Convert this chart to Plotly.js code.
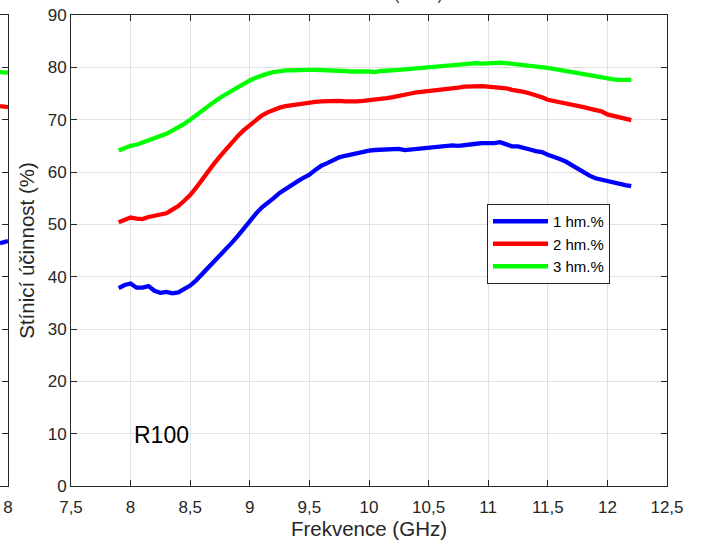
<!DOCTYPE html>
<html>
<head>
<meta charset="utf-8">
<script src="https://cdn.plot.ly/plotly-3.0.1.min.js"></script>
<style>
html, body { margin: 0; padding: 0; background: #ffffff; }
#chart { width: 702px; height: 545px; }
</style>
</head>
<body>
<div id="chart"></div>
<script>
// ---- data ----
const frequency = [
  7.90, 7.95, 8.00, 8.05, 8.10, 8.15, 8.20, 8.25, 8.30, 8.35,
  8.40, 8.45, 8.50, 8.55, 8.60, 8.65, 8.70, 8.75, 8.80, 8.85,
  8.90, 8.95, 9.00, 9.05, 9.10, 9.15, 9.20, 9.25, 9.30, 9.35,
  9.40, 9.45, 9.50, 9.55, 9.60, 9.65, 9.70, 9.75, 9.80, 9.85,
  9.90, 9.95, 10.00, 10.05, 10.10, 10.15, 10.20, 10.25, 10.30, 10.35,
  10.40, 10.45, 10.50, 10.55, 10.60, 10.65, 10.70, 10.75, 10.80, 10.85,
  10.90, 10.95, 11.00, 11.05, 11.10, 11.15, 11.20, 11.25, 11.30, 11.35,
  11.40, 11.45, 11.50, 11.55, 11.60, 11.65, 11.70, 11.75, 11.80, 11.85,
  11.90, 11.95, 12.00, 12.05, 12.10, 12.15, 12.20
];

const series1hm = [
  37.8, 38.4, 38.7, 37.9, 37.9, 38.2, 37.3, 36.9, 37.1, 36.8,
  37.0, 37.7, 38.3, 39.3, 40.5, 41.5, 42.8, 44.0, 45.3, 46.5,
  47.8, 49.3, 50.6, 52.0, 53.2, 54.0, 55.0, 56.0, 56.8, 57.6,
  58.2, 58.9, 59.5, 60.4, 61.2, 61.7, 62.3, 62.8, 63.1, 63.4,
  63.7, 63.9, 64.1, 64.2, 64.3, 64.4, 64.5, 64.4, 64.2, 64.3,
  64.5, 64.6, 64.7, 64.8, 64.9, 65.1, 65.1, 65.0, 65.2, 65.3,
  65.4, 65.5, 65.4, 65.5, 65.7, 65.2, 64.9, 64.9, 64.7, 64.3,
  64.0, 63.8, 63.3, 63.0, 62.5, 62.0, 61.3, 60.6, 59.9, 59.3,
  58.8, 58.5, 58.2, 57.9, 57.8, 57.5, 57.3
];

const series2hm = [
  50.4, 50.9, 51.3, 51.1, 51.0, 51.4, 51.7, 51.9, 52.1, 52.8,
  53.5, 54.5, 55.6, 57.0, 58.6, 60.2, 61.6, 63.0, 64.4, 65.7,
  66.9, 68.0, 69.0, 69.9, 70.8, 71.4, 71.9, 72.3, 72.6, 72.8,
  73.0, 73.1, 73.2, 73.4, 73.5, 73.6, 73.6, 73.6, 73.5, 73.4,
  73.5, 73.6, 73.7, 73.7, 73.9, 74.1, 74.3, 74.6, 74.8, 75.0,
  75.2, 75.3, 75.4, 75.6, 75.8, 75.9, 76.0, 76.1, 76.3, 76.4,
  76.5, 76.4, 76.3, 76.2, 76.3, 76.0, 75.7, 75.6, 75.3, 75.0,
  74.7, 74.3, 73.8, 73.6, 73.3, 73.1, 72.8, 72.6, 72.4, 72.1,
  71.9, 71.6, 71.0, 70.7, 70.3, 70.1, 69.9
];

const series3hm = [
  64.1, 64.6, 65.0, 65.2, 65.6, 66.2, 66.5, 66.9, 67.3, 67.9,
  68.5, 69.2, 70.0, 70.9, 71.7, 72.6, 73.4, 74.2, 74.9, 75.6,
  76.3, 76.9, 77.5, 78.0, 78.5, 78.8, 79.1, 79.3, 79.4, 79.4,
  79.5, 79.5, 79.5, 79.5, 79.5, 79.4, 79.4, 79.3, 79.3, 79.2,
  79.1, 79.2, 79.2, 79.1, 79.3, 79.3, 79.4, 79.5, 79.6, 79.7,
  79.8, 79.8, 79.9, 80.1, 80.3, 80.4, 80.5, 80.6, 80.7, 80.8,
  80.8, 80.7, 80.8, 80.9, 80.9, 80.8, 80.7, 80.6, 80.5, 80.4,
  80.2, 80.1, 79.9, 79.7, 79.5, 79.3, 79.1, 78.8, 78.5, 78.3,
  78.1, 77.9, 77.8, 77.7, 77.6, 77.6, 77.6
];

const seriesNames = ['1 hm.%', '2 hm.%', '3 hm.%'];
const seriesColors = ['#0000ff', '#ff0000', '#00ff00'];

// the edge of the neighbouring panel that is visible at the left border
const neighborFrequency = [7.90, 7.95, 8.00];
const neighbor1hm = [46.4, 46.6, 46.8];
const neighbor2hm = [72.6, 72.5, 72.4];
const neighbor3hm = [79.1, 79.0, 79.0];

const xTickValues = [7.5, 8, 8.5, 9, 9.5, 10, 10.5, 11, 11.5, 12, 12.5];
const yTickValues = [0, 10, 20, 30, 40, 50, 60, 70, 80, 90];
const neighborXTicks = [8];

const xTitle = 'Frekvence (GHz)';
const yTitle = 'Stínicí účinnost (%)';
const panelLabel = 'R100';
const cutTitle = '(R100)';

// ---- chart ----
const FONT = 'Arial, "Liberation Sans", Helvetica, sans-serif';
const INK = '#262626';
const W = 702, H = 545;
const PL = 71, PR = 667, PT = 15, PB = 486;

const mainSeries = [series1hm, series2hm, series3hm];
const neighborSeries = [neighbor1hm, neighbor2hm, neighbor3hm];

const traces = [];
mainSeries.forEach((vals, i) => {
  traces.push({
    type: 'scatter', mode: 'lines',
    x: frequency, y: vals,
    name: seriesNames[i],
    line: { color: seriesColors[i], width: 4.3 },
    xaxis: 'x', yaxis: 'y',
    hoverinfo: 'skip'
  });
});
neighborSeries.forEach((vals, i) => {
  traces.push({
    type: 'scatter', mode: 'lines',
    x: neighborFrequency, y: vals,
    name: seriesNames[i],
    showlegend: false,
    line: { color: seriesColors[i], width: 4.3 },
    xaxis: 'x2', yaxis: 'y2',
    hoverinfo: 'skip'
  });
});

const layout = {
  width: W, height: H,
  margin: { l: 0, r: 0, t: PT, b: H - PB, pad: 0 },
  paper_bgcolor: '#ffffff',
  plot_bgcolor: '#ffffff',
  separators: ', ',
  font: { family: FONT, size: 17, color: INK },
  showlegend: true,
  legend: {
    x: 487 / W, y: (PB - 204) / (PB - PT),
    xanchor: 'left', yanchor: 'top',
    bgcolor: '#ffffff', bordercolor: INK, borderwidth: 1,
    font: { family: FONT, size: 15, color: '#000000' },
    itemwidth: 55,
    tracegroupgap: 0
  },
  xaxis: {
    domain: [PL / W, PR / W],
    range: [7.5, 12.5],
    tickmode: 'array', tickvals: xTickValues,
    ticks: 'inside', ticklen: 6, tickcolor: INK, tickwidth: 1,
    ticklabelstandoff: 6,
    showline: true, linecolor: INK, linewidth: 1, mirror: 'ticks',
    showgrid: true, gridcolor: '#e2e2e2', gridwidth: 1,
    zeroline: false,
    tickfont: { family: FONT, size: 17, color: INK },
    title: { text: xTitle, standoff: 5, font: { family: FONT, size: 20.5, color: INK } },
    anchor: 'y'
  },
  yaxis: {
    domain: [0, 1],
    range: [0, 90],
    tickmode: 'array', tickvals: yTickValues,
    ticks: 'inside', ticklen: 6, tickcolor: INK, tickwidth: 1,
    showline: true, linecolor: INK, linewidth: 1, mirror: 'ticks',
    showgrid: true, gridcolor: '#e2e2e2', gridwidth: 1,
    zeroline: false,
    tickfont: { family: FONT, size: 17, color: INK },
    title: { text: yTitle, standoff: 7, font: { family: FONT, size: 20.5, color: INK } },
    anchor: 'x'
  },
  xaxis2: {
    domain: [0, 8 / W],
    range: [7.9, 8.0],
    tickmode: 'array', tickvals: neighborXTicks,
    ticks: 'inside', ticklen: 6, tickcolor: INK,
    ticklabelstandoff: 6,
    showline: true, linecolor: INK, linewidth: 1, mirror: true,
    showgrid: false, zeroline: false,
    tickfont: { family: FONT, size: 17, color: INK },
    anchor: 'y2'
  },
  yaxis2: {
    domain: [0, 1],
    range: [0, 90],
    side: 'right',
    tickmode: 'array', tickvals: yTickValues,
    ticks: 'inside', ticklen: 6, tickcolor: INK,
    showline: true, linecolor: INK, linewidth: 1,
    showticklabels: false,
    showgrid: false, zeroline: false,
    anchor: 'x2'
  },
  annotations: [
    {
      text: panelLabel, xref: 'x', yref: 'y', x: 8.255, y: 9.75,
      showarrow: false, xanchor: 'center', yanchor: 'middle',
      font: { family: FONT, size: 23, color: '#000000' }
    },
    {
      text: cutTitle, xref: 'paper', yref: 'paper', x: 419 / W, y: 1,
      showarrow: false, xanchor: 'center', yanchor: 'bottom', yshift: 10,
      font: { family: FONT, size: 16, color: INK }
    }
  ]
};

Plotly.newPlot('chart', traces, layout, { staticPlot: true, displayModeBar: false });
</script>
</body>
</html>
